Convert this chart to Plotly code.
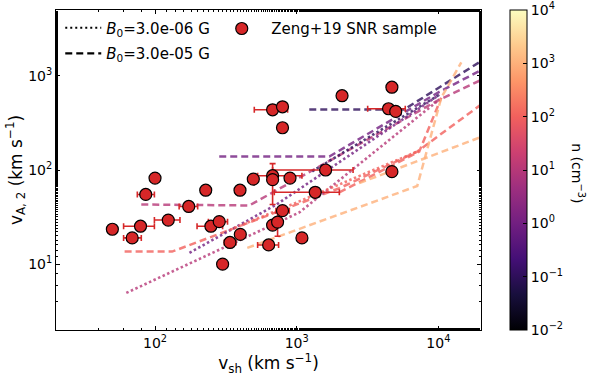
import numpy as np
import plotly.graph_objects as go
import plotly.colors as pc

# Zeng+19 SNR sample (km/s)
vsh = [50, 69, 79, 86, 100, 124, 173, 228, 248, 284, 300, 338, 398, 400, 494,
       634, 676, 676, 676, 733, 794, 897, 1089, 1352, 1600, 676, 794, 794, 2090,
       4700, 4450, 5000, 4700]
va2 = [23.5, 19, 25.3, 55, 82, 29.4, 41, 61, 25.3, 28.3, 10, 17, 61, 20.7, 80,
       16, 87, 79, 26, 28, 37, 82, 19, 58, 100, 436, 469, 281, 615,
       757, 447, 419, 96]
vsh_lo = [50, 60, 60, 75, 100, 99, 148, 228, 198, 238, 300, 308, 398, 400, 494,
          530, 530, 676, 676, 733, 714, 897, 1089, 695, 676, 502, 794, 794, 2090,
          4700, 3170, 5000, 4700]
vsh_hi = [50, 80, 99, 99, 100, 150, 200, 228, 300, 325, 300, 373, 398, 400, 494,
          745, 1089, 676, 676, 733, 887, 897, 1089, 2000, 2500, 863, 794, 794, 2090,
          4700, 5840, 5000, 4700]
va2_lo = [23.5, 19, 25.3, 55, 82, 29.4, 41, 61, 25.3, 28.3, 10, 17, 61, 20.7, 80,
          16, 43, 79, 26, 19.8, 37, 82, 19, 58, 100, 436, 469, 281, 615,
          757, 447, 419, 96]
va2_hi = [23.5, 19, 25.3, 55, 82, 29.4, 41, 61, 25.3, 28.3, 10, 17, 61, 20.7, 80,
          16, 117, 79, 26, 35.4, 37, 82, 19, 58, 100, 436, 469, 281, 615,
          757, 447, 419, 96]

# model curves, B0 = 3e-5 G (dashed), keyed by density n (cm^-3)
dash_n = [0.1, 1, 10, 100, 100, 1000, 1000]
dash_x = [
    [1227, 5745, 20000],
    [284, 1700, 10150, 20000],
    [80, 463, 10150, 20000],
    [61, 132, 334, 2000, 7096, 20000],
    [2000, 7330, 10490],
    [448, 2767, 7096, 10490, 14520],
    [2767, 20000],
]
dash_y = [
    [440, 440, 1430],
    [139, 139, 676, 1146],
    [43, 42, 558, 901],
    [13.6, 13.6, 23, 64, 157, 495],
    [58, 157, 586],
    [14.9, 39.9, 67.6, 586, 1390],
    [72.6, 224],
]

# model curves, B0 = 3e-6 G (dotted)
dot_n = [0.1, 1, 10, 100]
dot_x = [
    [1288, 10150],
    [175, 718, 10150],
    [62.7, 298, 1043, 10150],
    [334, 993, 7096],
]
dot_y = [
    [96.9, 629],
    [13.2, 42.9, 629],
    [4.95, 14.6, 35.4, 558],
    [23, 45, 157],
]

cb_ticks = [-2, -1, 0, 1, 2, 3, 4]

FONT = "DejaVu Sans"
RED = "#d62728"


def magma_rgba(n, alpha=0.8):
    t = (np.log10(n) + 2) / 6
    c = pc.sample_colorscale("Magma", [t], colortype="rgb")[0]
    r, g, b = [int(float(v)) for v in c[4:-1].split(",")]
    return f"rgba({r},{g},{b},{alpha})"


fig = go.Figure()

for n, xs, ys in zip(dash_n, dash_x, dash_y):
    fig.add_trace(go.Scatter(
        x=xs, y=ys, mode="lines",
        line=dict(color=magma_rgba(n), width=2.5, dash="7px,4px"),
        showlegend=False, hoverinfo="skip",
    ))

for n, xs, ys in zip(dot_n, dot_x, dot_y):
    fig.add_trace(go.Scatter(
        x=xs, y=ys, mode="lines",
        line=dict(color=magma_rgba(n), width=2.6, dash="2.5px,2.5px"),
        showlegend=False, hoverinfo="skip",
    ))

# legend entries for the line styles
fig.add_trace(go.Scatter(
    x=[None], y=[None], mode="lines",
    line=dict(color="black", width=2, dash="2px,3px"),
    name="<i>B</i><sub>0</sub>=3.0e-06 G", legend="legend", legendgroup="a",
))
fig.add_trace(go.Scatter(
    x=[None], y=[None], mode="lines",
    line=dict(color="black", width=2.2, dash="7px,4px"),
    name="<i>B</i><sub>0</sub>=3.0e-05 G", legend="legend", legendgroup="b",
))

# data points
fig.add_trace(go.Scatter(
    x=vsh, y=va2, mode="markers",
    marker=dict(color=RED, size=12, line=dict(color="black", width=1.2)),
    error_x=dict(type="data", symmetric=False,
                 array=[h - v for h, v in zip(vsh_hi, vsh)],
                 arrayminus=[v - l for v, l in zip(vsh, vsh_lo)],
                 color=RED, thickness=1.6, width=3),
    error_y=dict(type="data", symmetric=False,
                 array=[h - v for h, v in zip(va2_hi, va2)],
                 arrayminus=[v - l for v, l in zip(va2, va2_lo)],
                 color=RED, thickness=1.6, width=3),
    name="&nbsp;&nbsp;Zeng+19 SNR sample", legend="legend2",
))

# colourbar carrier
fig.add_trace(go.Scatter(
    x=[None], y=[None], mode="markers", showlegend=False, hoverinfo="skip",
    marker=dict(
        color=[0], colorscale="Magma", cmin=-2, cmax=4, showscale=True,
        colorbar=dict(
            x=1.069, xanchor="left", xpad=0, y=0.5, yanchor="middle",
            len=1.0, lenmode="fraction", thickness=17, ypad=0,
            outlinecolor="black", outlinewidth=1,
            tickvals=cb_ticks,
            ticktext=[f"10<sup>{'−' if t < 0 else ''}{abs(t)}</sup>" for t in cb_ticks],
            ticks="inside", ticklen=4, tickcolor="black",
            ticklabeloverflow="allow",
            tickfont=dict(family=FONT, size=14, color="black"),
        ),
    ),
))

axis_common = dict(
    type="log", showgrid=False, zeroline=False,
    showline=True, linecolor="black", linewidth=1, mirror="ticks",
    ticks="inside", ticklen=4, tickwidth=1, tickcolor="black",
    minor=dict(ticks="inside", ticklen=2, tickcolor="black", showgrid=False),
    tickfont=dict(family=FONT, size=14, color="black"),
)

fig.update_layout(
    width=610, height=376,
    margin=dict(l=56, r=129, t=9, b=42),
    paper_bgcolor="white", plot_bgcolor="white",
    font=dict(family=FONT, size=14, color="black"),
    xaxis=dict(
        axis_common, range=[np.log10(20), np.log10(2e4)],
        tickvals=[100, 1000, 10000],
        ticktext=["10<sup>2</sup>", "10<sup>3</sup>", "10<sup>4</sup>"],
        title=dict(text="v<sub>sh</sub> (km s<sup>−1</sup>)", standoff=4),
    ),
    yaxis=dict(
        axis_common, range=[np.log10(2), np.log10(5000)],
        tickvals=[10, 100, 1000],
        ticktext=["10<sup>1</sup>", "10<sup>2</sup>", "10<sup>3</sup>"],
        title=dict(text="v<sub>A, 2</sub> (km s<sup>−1</sup>)", standoff=1),
    ),
    legend=dict(x=0.010, y=0.995, xanchor="left", yanchor="top",
                bgcolor="rgba(0,0,0,0)", font=dict(family=FONT, size=15),
                traceorder="grouped", tracegroupgap=3, itemwidth=36),
    legend2=dict(x=0.39, y=0.993, xanchor="left", yanchor="top",
                 bgcolor="rgba(0,0,0,0)", font=dict(family=FONT, size=15),
                 itemwidth=30),
    annotations=[dict(
        text="n (cm<sup>−3</sup>)", textangle=90, showarrow=False,
        xref="paper", yref="paper", x=1.228, y=0.49,
        xanchor="center", yanchor="middle",
        font=dict(family=FONT, size=14, color="black"),
    )],
)

# drop the default page margin so the figure sits at the window's corner
fig.write_html("out.html", config={"displayModeBar": False},
               post_script="document.body.style.margin='0';")
